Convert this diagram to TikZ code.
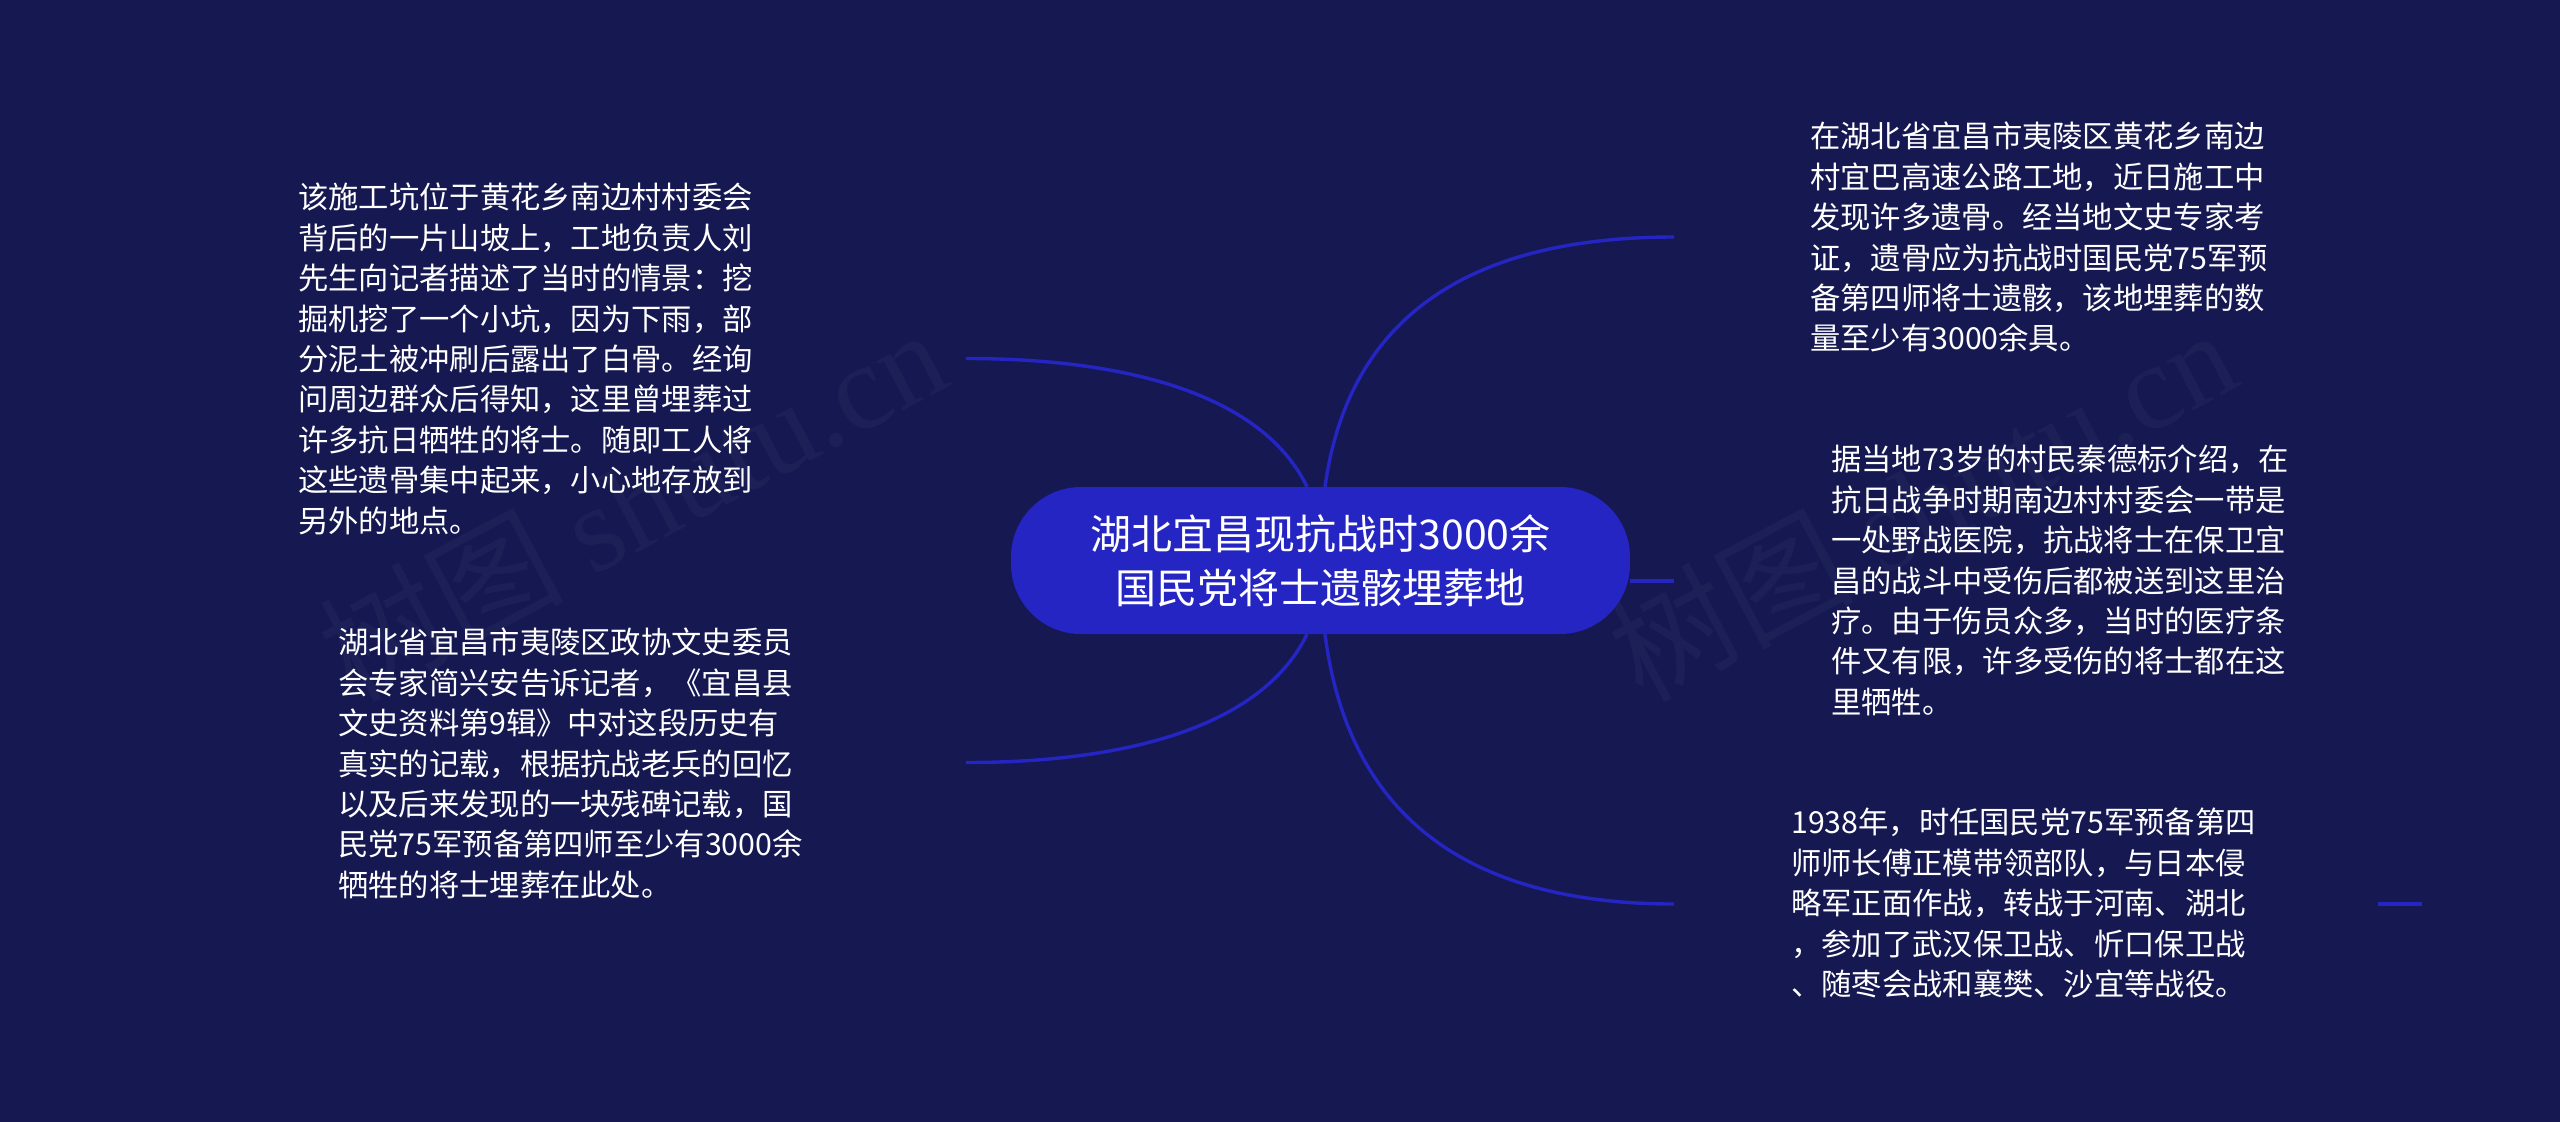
\documentclass[tikz,border=0pt]{standalone}
\usepackage{fontspec}
\usetikzlibrary{calc}
\setmainfont{Noto Sans CJK SC}
\newfontfamily\wmlatin{Liberation Serif}
\definecolor{pagebg}{HTML}{161852}
\definecolor{pillblue}{HTML}{2525C4}
\definecolor{wmark}{HTML}{1C2056}
\tikzset{
  x=1pt,y=-1pt,
  link/.style={draw=pillblue,line width=3.4pt},
  pilltext/.style={fill=pillblue,text=white,rounded corners=70pt,minimum width=619pt,minimum height=147pt,inner sep=0pt,align=center,font=\fontsize{41}{54}\selectfont},
  bodytext/.style={text=white,anchor=north west,align=left,inner sep=0pt,font=\fontsize{30.3}{40.4}\selectfont},
  wmtext/.style={text=wmark,rotate=28,inner sep=0pt,font=\fontsize{122}{130}\selectfont},
}
\begin{document}
\begin{tikzpicture}
\useasboundingbox (0,0) rectangle (2560,1122);
\fill[pagebg] (0,0) rectangle (2560,1122);
\node[wmtext] (wa) at (632,503) {树图 {\wmlatin shutu.cn}};
\node[wmtext] (wb) at (1922,503) {树图 {\wmlatin shutu.cn}};
\node[pilltext] (pill) at (1320.5,560.5) {湖北宜昌现抗战时3000余\\国民党将士遗骸埋葬地};
\coordinate (e1) at (966,358.5);
\coordinate (e2) at (966,762.5);
\coordinate (e3) at (1674,237);
\coordinate (e4) at (1674,581);
\coordinate (e5) at (1674,904);
\coordinate (f1) at (2378,904);
\coordinate (f2) at (2422,904);
\draw[link] ($(pill.north)+(-13.5,0)$) .. controls (1265,400) and (1140,358.5) .. (e1);
\draw[link] ($(pill.south)+(-13.5,0)$) .. controls (1265,721) and (1140,762.5) .. (e2);
\draw[link] ($(pill.north)+(4.5,0)$) .. controls (1348,320) and (1465,237) .. (e3);
\draw[link] (pill.east |- e4) -- (e4);
\draw[link] ($(pill.south)+(4.5,0)$) .. controls (1348,814) and (1465,904) .. (e5);
\draw[link] (f1) -- (f2);
\node[bodytext] (t1) at (298,183) {该施工坑位于黄花乡南边村村委会\\背后的一片山坡上，工地负责人刘\\先生向记者描述了当时的情景：挖\\掘机挖了一个小坑，因为下雨，部\\分泥土被冲刷后露出了白骨。经询\\问周边群众后得知，这里曾埋葬过\\许多抗日牺牲的将士。随即工人将\\这些遗骨集中起来，小心地存放到\\另外的地点。};
\node[bodytext] (t2) at (338,628) {湖北省宜昌市夷陵区政协文史委员\\会专家简兴安告诉记者，《宜昌县\\文史资料第9辑》中对这段历史有\\真实的记载，根据抗战老兵的回忆\\以及后来发现的一块残碑记载，国\\民党75军预备第四师至少有3000余\\牺牲的将士埋葬在此处。};
\node[bodytext] (t3) at (1810,122) {在湖北省宜昌市夷陵区黄花乡南边\\村宜巴高速公路工地，近日施工中\\发现许多遗骨。经当地文史专家考\\证，遗骨应为抗战时国民党75军预\\备第四师将士遗骸，该地埋葬的数\\量至少有3000余具。};
\node[bodytext] (t4) at (1831,445) {据当地73岁的村民秦德标介绍，在\\抗日战争时期南边村村委会一带是\\一处野战医院，抗战将士在保卫宜\\昌的战斗中受伤后都被送到这里治\\疗。由于伤员众多，当时的医疗条\\件又有限，许多受伤的将士都在这\\里牺牲。};
\node[bodytext] (t5) at (1791,808) {1938年，时任国民党75军预备第四\\师师长傅正模带领部队，与日本侵\\略军正面作战，转战于河南、湖北\\，参加了武汉保卫战、忻口保卫战\\、随枣会战和襄樊、沙宜等战役。};
\end{tikzpicture}
\end{document}
